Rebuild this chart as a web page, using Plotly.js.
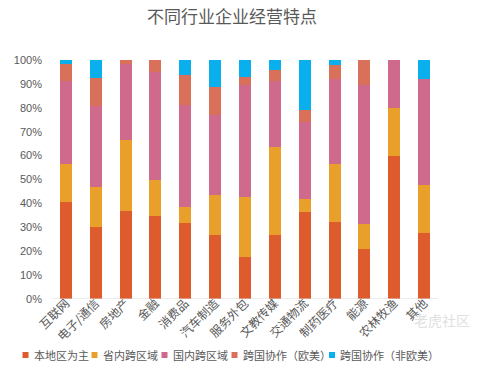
<!DOCTYPE html>
<html>
<head>
<meta charset="utf-8">
<script src="https://cdn.plot.ly/plotly-3.0.1.min.js"></script>
<style>html,body{margin:0;padding:0;background:#fff;}#chart{width:478px;height:366px;}</style>
</head>
<body>
<div id="chart"></div>
<script>
const categories = ['互联网','电子/通信','房地产','金融','消费品','汽车制造','服务外包','文教传媒','交通物流','制药医疗','能源','农林牧渔','其他'];
const seriesNames = ['本地区为主','省内跨区域','国内跨区域','跨国协作（欧美）','跨国协作（非欧美）'];
const localMain   = [40.6, 30.3, 36.8, 34.9, 31.8, 26.8, 17.6, 26.9, 36.4, 32.4, 20.9, 59.8, 27.7];
const inProvince  = [15.9, 16.7, 29.7, 15.0,  6.8, 16.9, 25.2, 36.8,  5.6, 24.1, 10.6, 20.1, 20.0];
const domestic    = [34.8, 33.8, 31.8, 45.1, 42.4, 33.4, 46.6, 27.6, 32.0, 35.4, 58.2, 20.1, 44.2];
const intlWest    = [ 7.0, 11.7,  1.7,  5.0, 12.6, 11.5,  3.3,  4.5,  5.1,  5.9, 10.3,  0.0,  0.0];
const intlNonWest = [ 1.7,  7.5,  0.0,  0.0,  6.4, 11.4,  7.3,  4.2, 20.9,  2.2,  0.0,  0.0,  8.1];
const seriesValues = [localMain, inProvince, domestic, intlWest, intlNonWest];
const colors = ['#DE5B2E','#E9A02B','#D06A8C','#D9705A','#0AB0EE'];
const yTicks = [0,10,20,30,40,50,60,70,80,90,100];

const font = 'Liberation Sans, Noto Sans CJK SC, sans-serif';
const cjk = 'Noto Sans CJK SC, sans-serif';

const traces = seriesValues.map((vals, i) => ({
  type: 'bar',
  name: seriesNames[i],
  x: categories,
  y: vals,
  marker: {color: colors[i], line: {width: 0}},
  width: 0.4,
  hoverinfo: 'x+y+name',
  showlegend: false
}));

// custom compact legend (layout positions in pixels converted to paper coords)
const plotL = 51, plotR = 439, plotT = 60, plotB = 299;
const pw = plotR - plotL, ph = plotB - plotT;
const px = v => (v - plotL) / pw;
const py = v => (plotB - v) / ph;
const legSquareLeft = [22.5, 91.5, 161.5, 231.5, 329];
const legTextLeft = [31.5, 100.5, 170.5, 240.5, 337.5];
const legY = 355;
const shapes = [];
const annotations = [];
seriesNames.forEach((n, i) => {
  shapes.push({type: 'rect', xref: 'paper', yref: 'paper',
    x0: px(legSquareLeft[i]), x1: px(legSquareLeft[i] + 6),
    y0: py(legY + 3), y1: py(legY - 3),
    fillcolor: colors[i], line: {width: 0}});
  annotations.push({xref: 'paper', yref: 'paper', x: px(legTextLeft[i]), y: py(legY),
    xanchor: 'left', yanchor: 'middle', showarrow: false, text: n,
    font: {family: cjk, size: 11, color: '#595959'}});
});
// baseline
shapes.push({type: 'line', xref: 'paper', yref: 'y', x0: px(52), x1: px(438), y0: 0, y1: 0,
  line: {color: '#D9D9D9', width: 1}});
// watermark
annotations.push({xref: 'paper', yref: 'paper', x: px(472), y: py(320), xanchor: 'right', yanchor: 'middle',
  showarrow: false, text: '老虎社区', font: {family: cjk, size: 14, color: '#E0E0E0'}});

const layout = {
  width: 478, height: 366,
  margin: {l: plotL, r: 478 - plotR, t: plotT, b: 366 - plotB, pad: 0},
  paper_bgcolor: '#fff', plot_bgcolor: '#fff',
  barmode: 'stack',
  bargap: 0.6,
  title: {text: '不同行业企业经营特点', x: 232/478, xanchor: 'center', xref: 'container',
    y: 1 - 17/366, yref: 'container', yanchor: 'middle',
    font: {family: cjk, size: 17, color: '#595959'}},
  xaxis: {type: 'category', categoryorder: 'array', categoryarray: categories,
    tickangle: -45, showgrid: false, zeroline: false, showline: false, ticks: '', ticklabelstandoff: -6,
    tickfont: {family: cjk, size: 12, color: '#595959'}, fixedrange: true},
  yaxis: {range: [0, 100], tickvals: yTicks, ticktext: yTicks.map(v => v + '%'),
    showgrid: false, zeroline: false, showline: false, ticks: '', ticklabelstandoff: 8,
    tickfont: {family: font, size: 11, color: '#595959'}, fixedrange: true},
  shapes: shapes,
  annotations: annotations,
  showlegend: false
};

Plotly.newPlot('chart', traces, layout, {displayModeBar: false, staticPlot: true});
</script>
</body>
</html>
